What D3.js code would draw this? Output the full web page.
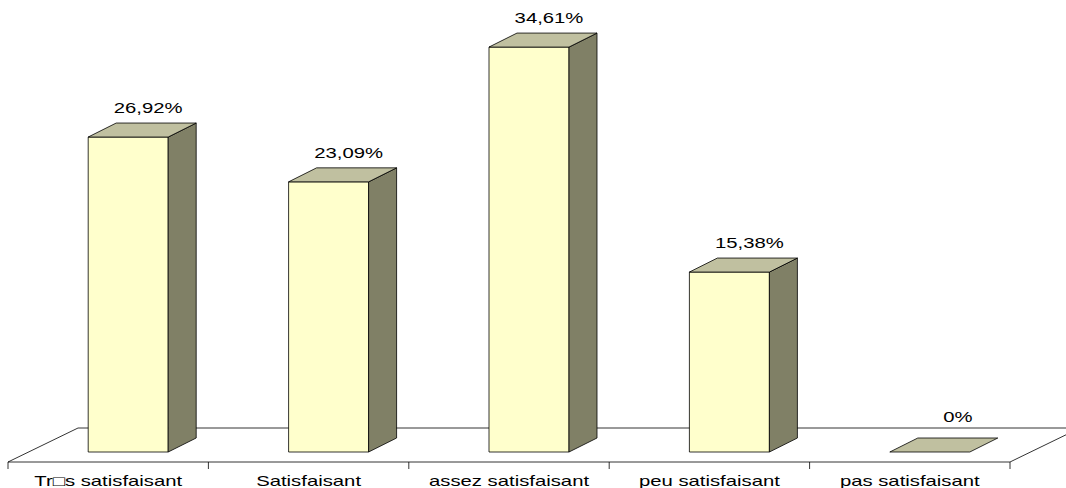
<!DOCTYPE html>
<html><head><meta charset="utf-8">
<script src="https://cdn.jsdelivr.net/npm/d3@7/dist/d3.min.js"></script>
<style>html,body{margin:0;padding:0;background:#fff;overflow:hidden}svg{display:block}</style>
</head><body>
<svg id="c" width="1066" height="488"></svg>
<script>
const categories = ["Tr\u25A1s satisfaisant", "Satisfaisant", "assez satisfaisant", "peu satisfaisant", "pas satisfaisant"];
const values = [26.92, 23.09, 34.61, 15.38, 0];
const valueLabels = ["26,92%", "23,09%", "34,61%", "15,38%", "0%"];

const svg = d3.select("#c");
const floorFront = 462, floorLeft = 8, floorRight = 1010;
const floorDX = 70, floorDY = -34;
const barDX = 28, barDY = -14;
const baseShiftX = 20, baseY = 452;
const FONT = "Liberation Sans, Arial, sans-serif";
const stretch = 1.45;

const x = d3.scaleBand().domain(categories).range([floorLeft, floorRight]).paddingInner(0).paddingOuter(0);
const y = d3.scaleLinear().domain([0, 10]).range([baseY, baseY - 117]);

const g = svg.append("g");

// floor
const fl = [[floorLeft, floorFront], [floorRight, floorFront], [floorRight + floorDX, floorFront + floorDY], [floorLeft + floorDX, floorFront + floorDY]];
g.append("path").attr("d", d3.line()(fl) + "Z").attr("fill", "#fff").attr("stroke", "#000").attr("stroke-width", 0.8);

// ticks
const ticks = categories.map(c => x(c)).concat([floorRight]);
g.selectAll("line.tick").data(ticks).enter().append("line")
  .attr("x1", d => d).attr("x2", d => d).attr("y1", floorFront).attr("y2", floorFront + 7)
  .attr("stroke", "#000").attr("stroke-width", 0.8);

function stretchedText(sel, tx, ty, txt) {
  sel.append("text")
    .attr("transform", `translate(${tx},${ty}) scale(${stretch},1)`)
    .attr("text-anchor", "middle").attr("font-family", FONT)
    .attr("font-size", 14).attr("fill", "#000").text(txt);
}

// category labels
categories.forEach(c => stretchedText(g, x(c) + x.bandwidth() / 2, 486, c));

const barW = 80;
const data = categories.map((c, i) => ({c, v: values[i], label: valueLabels[i]}));
const bars = g.selectAll("g.bar").data(data).enter().append("g");
bars.each(function(d) {
  const sel = d3.select(this);
  const cx = x(d.c) + x.bandwidth() / 2 + baseShiftX;
  const x0 = cx - barW / 2, x1 = cx + barW / 2;
  const yt = y(d.v), yb = y(0);
  const sw = 0.8;
  if (d.v > 0) {
    sel.append("path").attr("d", d3.line()([[x0, yb], [x1, yb], [x1, yt], [x0, yt]]) + "Z")
      .attr("fill", "#FFFFCC").attr("stroke", "#000").attr("stroke-width", sw);
    sel.append("path").attr("d", d3.line()([[x1, yb], [x1 + barDX, yb + barDY], [x1 + barDX, yt + barDY], [x1, yt]]) + "Z")
      .attr("fill", "#808066").attr("stroke", "#000").attr("stroke-width", sw);
  }
  sel.append("path").attr("d", d3.line()([[x0, yt], [x1, yt], [x1 + barDX, yt + barDY], [x0 + barDX, yt + barDY]]) + "Z")
    .attr("fill", "#C0C0A0").attr("stroke", "#000").attr("stroke-width", sw);
  const zero = d.v === 0;
  const ly = zero ? floorFront + floorDY - 6 : yt - 24;
  const lx = zero ? cx + barDX : cx + 20;
  stretchedText(sel, lx, ly, d.label);
});
</script>
</body></html>
